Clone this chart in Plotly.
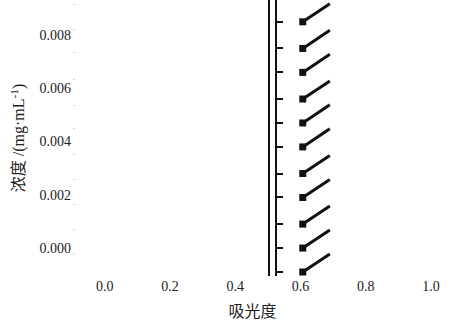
import plotly.graph_objects as go

# ---- data ----
absorbance = [0.607] * 11
concentration = [-0.0009, 0.0000, 0.0009, 0.0019, 0.0028, 0.0038,
                 0.0047, 0.0056, 0.0066, 0.0075, 0.0085]
arrow_end_absorbance = [0.69] * 11
arrow_end_concentration = [c + 0.00068 for c in concentration]

x_ticks = [0.0, 0.2, 0.4, 0.6, 0.8, 1.0]
x_tick_labels = ["0.0", "0.2", "0.4", "0.6", "0.8", "1.0"]
y_ticks = [0.000, 0.002, 0.004, 0.006, 0.008]
y_tick_labels = ["0.000", "0.002", "0.004", "0.006", "0.008"]
faint_ticks = [0.00914, 0.00823, 0.00733, 0.00632, 0.00534, 0.00451,
               0.0035, 0.00256, 0.00165, 0.00071, -0.00019]

x_range = [-0.1, 1.006]
y_range = [-0.00105, 0.00932]

FONT = '"Liberation Serif", "Noto Sans CJK SC", serif'
INK = "#111111"

seg_x, seg_y = [], []
for x0, y0, x1, y1 in zip(absorbance, concentration,
                          arrow_end_absorbance, arrow_end_concentration):
    seg_x += [x0, x1, None]
    seg_y += [y0, y1, None]

fig = go.Figure()
fig.add_trace(go.Scatter(x=seg_x, y=seg_y, mode="lines",
                         line=dict(color=INK, width=3), hoverinfo="skip",
                         showlegend=False))
fig.add_trace(go.Scatter(x=absorbance, y=concentration, mode="markers",
                         marker=dict(symbol="square", size=7, color=INK),
                         showlegend=False))
for ax in ["y2", "y3", "y4"]:
    fig.add_trace(go.Scatter(x=[None], y=[None], yaxis=ax, showlegend=False))

def frac(v):
    return (v - x_range[0]) / (x_range[1] - x_range[0])

fig.update_layout(
    width=454, height=325,
    margin=dict(l=72, r=21, t=0, b=49),
    paper_bgcolor="white", plot_bgcolor="white",
    font=dict(family=FONT, size=14, color="#222222"),
    xaxis=dict(range=x_range, tickvals=x_ticks, ticktext=x_tick_labels,
               showgrid=False, zeroline=False, showline=False, ticks="",
               title=dict(text="吸光度", font=dict(size=16), standoff=12)),
    yaxis=dict(range=y_range, tickvals=y_ticks, ticktext=y_tick_labels,
               showgrid=False, zeroline=False, showline=False, ticks="",
               title=dict(text="浓度 /(mg·mL<sup>-1</sup>)", font=dict(size=16),
                          standoff=10)),
    yaxis2=dict(overlaying="y", matches="y", anchor="free",
                position=frac(0.525), side="right",
                showline=True, linecolor=INK, linewidth=2,
                ticks="outside", ticklen=6, tickwidth=2, tickcolor=INK,
                tickvals=concentration, showticklabels=False,
                showgrid=False, zeroline=False),
    yaxis3=dict(overlaying="y", matches="y", anchor="free",
                position=frac(0.503), side="left",
                showline=True, linecolor=INK, linewidth=2,
                ticks="", showticklabels=False,
                showgrid=False, zeroline=False),
    yaxis4=dict(overlaying="y", matches="y", anchor="free",
                position=0, side="left",
                showline=False, ticks="inside", ticklen=2, tickwidth=1,
                tickcolor="#cfcfcf", tickvals=faint_ticks,
                showticklabels=False, showgrid=False, zeroline=False),
)

fig.write_html("out.html",
               config={"displayModeBar": False},
               post_script="document.body.style.margin='0';"
                           "document.body.style.overflow='hidden';")
